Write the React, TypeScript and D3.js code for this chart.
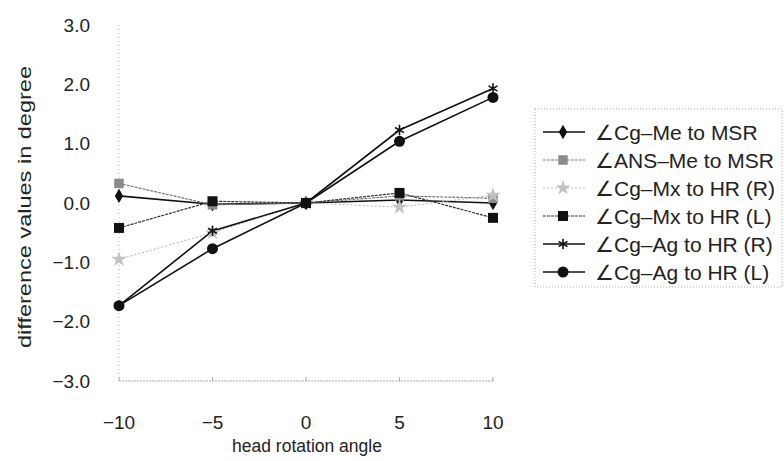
import * as d3 from "d3";

// head rotation angles on the x axis
const angles = [-10, -5, 0, 5, 10];

// difference values in degree, one array per measurement
const cgMeMsr = [0.12, -0.02, 0, 0.05, 0.0];
const ansMeMsr = [0.33, -0.03, 0, 0.12, 0.08];
const cgMxHrR = [-0.95, -0.5, 0, -0.07, 0.13];
const cgMxHrL = [-0.42, 0.03, 0, 0.17, -0.25];
const cgAgHrR = [-1.73, -0.47, 0, 1.23, 1.93];
const cgAgHrL = [-1.73, -0.77, 0, 1.04, 1.78];

const seriesNames = [
  "∠Cg–Me to MSR",
  "∠ANS–Me to MSR",
  "∠Cg–Mx to HR (R)",
  "∠Cg–Mx to HR (L)",
  "∠Cg–Ag to HR (R)",
  "∠Cg–Ag to HR (L)",
];

const yTicks = [3, 2, 1, 0, -1, -2, -3];
const xTicks = [-10, -5, 0, 5, 10];

const width = 784;
const height = 461;

const margin = { top: 25, bottom: 80, left: 119, right: 291 };

const styles = [
  { stroke: "#111", dash: "none", width: 1.6, fill: "#111", symbol: d3.symbolDiamond, size: 60, outline: false },
  { stroke: "#777", dash: "3,1", width: 1.2, fill: "#8a8a8a", symbol: d3.symbolSquare, size: 90, outline: false },
  { stroke: "#b5b5b5", dash: "2,2", width: 1, fill: "#c2c2c2", symbol: d3.symbolStar, size: 75, outline: false },
  { stroke: "#333", dash: "3,1", width: 1.2, fill: "#111", symbol: d3.symbolSquare, size: 100, outline: false },
  { stroke: "#111", dash: "none", width: 1.6, fill: "none", symbol: d3.symbolAsterisk, size: 75, outline: true },
  { stroke: "#111", dash: "none", width: 1.6, fill: "#111", symbol: d3.symbolCircle, size: 95, outline: false },
];

const App = () => {
  const seriesData = [cgMeMsr, ansMeMsr, cgMxHrR, cgMxHrL, cgAgHrR, cgAgHrL];

  const xScale = d3
    .scaleLinear()
    .domain([-10, 10])
    .range([margin.left, width - margin.right]);

  const yScale = d3
    .scaleLinear()
    .domain([-3, 3])
    .range([height - margin.bottom, margin.top]);

  const line = d3
    .line<number>()
    .x((_, i) => xScale(angles[i]))
    .y((d) => yScale(d));

  const bottom = height - margin.bottom;

  const marker = (s: typeof styles[number], x: number, y: number, key: string | number) => (
    <path
      key={key}
      d={d3.symbol().type(s.symbol).size(s.size)() ?? ""}
      transform={`translate(${x},${y})`}
      fill={s.fill}
      stroke={s.outline ? s.stroke : "none"}
      strokeWidth={s.outline ? 1.6 : 0}
    />
  );

  const legendX = 535;
  const legendY = 109;
  const rowH = 28;

  return (
    <svg
      width={width}
      height={height}
      viewBox={`0 0 ${width} ${height}`}
      style={{ position: "absolute", left: 0, top: 0, background: "#fff" }}
      fontFamily="'Liberation Sans', Arial, sans-serif"
    >
      {/* axes */}
      <line x1={margin.left} x2={margin.left} y1={margin.top} y2={bottom} stroke="#aaa" strokeDasharray="1,3" />
      <line x1={margin.left} x2={width - margin.right} y1={bottom} y2={bottom} stroke="#aaa" strokeDasharray="2,1" />
      {xTicks.map((t) => (
        <line key={t} x1={xScale(t)} x2={xScale(t)} y1={bottom - 4} y2={bottom} stroke="#aaa" />
      ))}

      {yTicks.map((t) => (
        <text key={t} x={90} y={yScale(t)} dy="0.35em" textAnchor="end" fontSize={19} fill="#222">
          {d3.format(".1f")(t).replace("-", "−")}
        </text>
      ))}
      {xTicks.map((t) => (
        <text key={t} x={xScale(t)} y={429} textAnchor="middle" fontSize={19} fill="#222">
          {String(t).replace("-", "−")}
        </text>
      ))}

      <text x={307} y={452} textAnchor="middle" fontSize={17.5} fill="#222">
        head rotation angle
      </text>
      <text
        transform={`translate(31,${(margin.top + bottom) / 2 + 4}) rotate(-90)`}
        textAnchor="middle"
        fontSize={19}
        fill="#222"
        textLength={282}
        lengthAdjust="spacingAndGlyphs"
      >
        difference values in degree
      </text>

      {/* series */}
      {seriesData.map((vals, si) => (
        <path
          key={si}
          d={line(vals) ?? ""}
          fill="none"
          stroke={styles[si].stroke}
          strokeWidth={styles[si].width}
          strokeDasharray={styles[si].dash}
        />
      ))}
      {seriesData.map((vals, si) => (
        <g key={si}>{vals.map((v, i) => marker(styles[si], xScale(angles[i]), yScale(v), i))}</g>
      ))}

      {/* legend */}
      <rect
        x={legendX}
        y={legendY}
        width={width - legendX - 2}
        height={rowH * 6 + 10}
        fill="none"
        stroke="#aaa"
        strokeDasharray="1,2"
      />
      {seriesNames.map((name, i) => {
        const y = legendY + 23 + i * rowH;
        const s = styles[i];
        return (
          <g key={name}>
            <line x1={543} x2={585} y1={y} y2={y} stroke={s.stroke} strokeWidth={s.width} strokeDasharray={s.dash} />
            {marker(s, 563, y, "m")}
            <text x={595} y={y} dy="0.36em" fontSize={21} fill="#222">
              {name}
            </text>
          </g>
        );
      })}
    </svg>
  );
};

export default App;
